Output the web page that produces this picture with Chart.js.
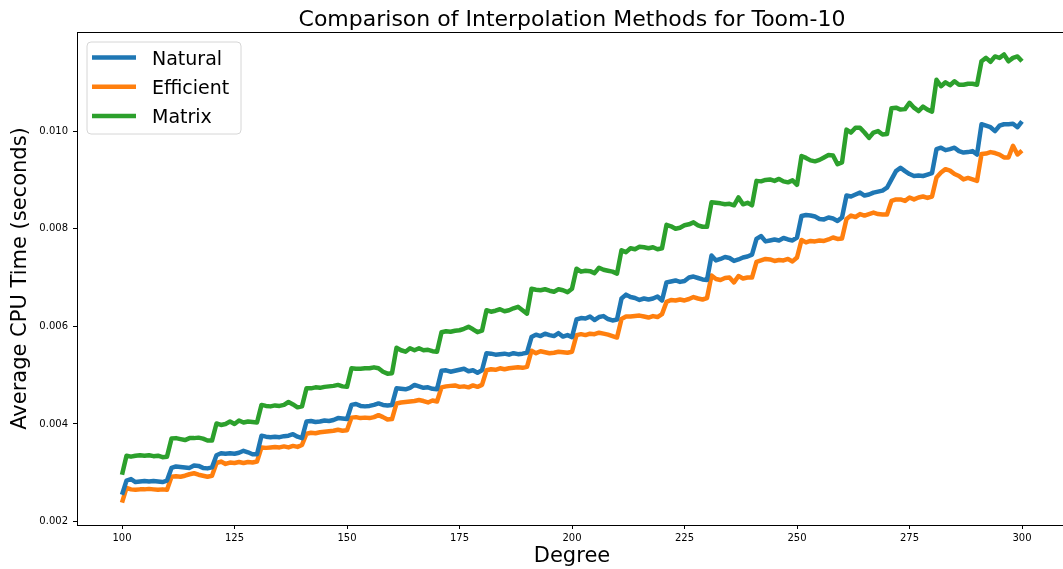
<!DOCTYPE html>
<html>
<head>
<meta charset="utf-8">
<script src="https://cdn.jsdelivr.net/npm/chart.js@4.4.0/dist/chart.umd.min.js"></script>
<style>
    html, body { margin: 0; padding: 0; background: #fff; }
    #wrap { width: 1063px; height: 569px; overflow: hidden; position: relative; }
    #wrap canvas { position: absolute; left: 0; top: 0; }
</style>
</head>
<body>
<div id="wrap"><canvas id="chart" width="1080" height="569"></canvas></div>
<script>
const chartTitle = 'Comparison of Interpolation Methods for Toom-10';
const xTitle = 'Degree';
const yTitle = 'Average CPU Time (seconds)';
const xTicks = [100, 125, 150, 175, 200, 225, 250, 275, 300];
const yTicks = [0.002, 0.004, 0.006, 0.008, 0.010];

// one point per degree, 100..300
const degrees = Array.from({ length: 201 }, (_, i) => 100 + i);

const natural = [
    0.00255,
    0.00284, 0.00287, 0.00281, 0.00282, 0.00283, 0.00282, 0.00283, 0.00282, 0.00281, 0.00284,
    0.00310, 0.00313, 0.00312, 0.00311, 0.00310, 0.00315, 0.00314, 0.00310, 0.00309, 0.00311,
    0.00336, 0.00340, 0.00339, 0.00340, 0.00339, 0.00341, 0.00345, 0.00342, 0.00338, 0.00338,
    0.00376, 0.00374, 0.00373, 0.00374, 0.00373, 0.00375, 0.00376, 0.00379, 0.00374, 0.00371,
    0.00405, 0.00406, 0.00404, 0.00405, 0.00407, 0.00406, 0.00408, 0.00412, 0.00411, 0.00410,
    0.00439, 0.00441, 0.00437, 0.00436, 0.00437, 0.00439, 0.00442, 0.00439, 0.00438, 0.00439,
    0.00473, 0.00472, 0.00471, 0.00474, 0.00480, 0.00477, 0.00474, 0.00475, 0.00472, 0.00471,
    0.00509, 0.00510, 0.00507, 0.00509, 0.00511, 0.00513, 0.00508, 0.00510, 0.00505, 0.00510,
    0.00545, 0.00544, 0.00542, 0.00543, 0.00544, 0.00542, 0.00545, 0.00543, 0.00544, 0.00546,
    0.00578, 0.00583, 0.00580, 0.00585, 0.00582, 0.00580, 0.00586, 0.00579, 0.00582, 0.00578,
    0.00614, 0.00617, 0.00616, 0.00620, 0.00613, 0.00619, 0.00621, 0.00615, 0.00612, 0.00614,
    0.00657, 0.00665, 0.00660, 0.00658, 0.00654, 0.00657, 0.00655, 0.00657, 0.00661, 0.00653,
    0.00690, 0.00692, 0.00694, 0.00691, 0.00693, 0.00700, 0.00702, 0.00699, 0.00696, 0.00695,
    0.00745, 0.00735, 0.00738, 0.00742, 0.00740, 0.00734, 0.00737, 0.00741, 0.00743, 0.00747,
    0.00779, 0.00785, 0.00774, 0.00776, 0.00778, 0.00776, 0.00781, 0.00778, 0.00776, 0.00782,
    0.00826, 0.00828, 0.00827, 0.00825, 0.00820, 0.00819, 0.00823, 0.00821, 0.00816, 0.00823,
    0.00868, 0.00866, 0.00870, 0.00874, 0.00868, 0.00870, 0.00874, 0.00876, 0.00878, 0.00884,
    0.00901, 0.00918, 0.00925, 0.00918, 0.00912, 0.00908, 0.00909, 0.00908, 0.00911, 0.00914,
    0.00963, 0.00966, 0.00961, 0.00963, 0.00966, 0.00959, 0.00956, 0.00957, 0.00959, 0.00952,
    0.01014, 0.01011, 0.01008, 0.01000, 0.01011, 0.01014, 0.01014, 0.01015, 0.01008, 0.01020
];

const efficient = [
    0.00239,
    0.00269, 0.00266, 0.00265, 0.00266, 0.00266, 0.00267, 0.00266, 0.00265, 0.00266, 0.00265,
    0.00292, 0.00293, 0.00292, 0.00294, 0.00297, 0.00299, 0.00296, 0.00294, 0.00292, 0.00294,
    0.00320, 0.00323, 0.00318, 0.00321, 0.00320, 0.00322, 0.00320, 0.00322, 0.00321, 0.00323,
    0.00352, 0.00351, 0.00352, 0.00353, 0.00352, 0.00354, 0.00352, 0.00355, 0.00353, 0.00357,
    0.00380, 0.00382, 0.00381, 0.00383, 0.00384, 0.00385, 0.00386, 0.00388, 0.00386, 0.00387,
    0.00413, 0.00414, 0.00412, 0.00413, 0.00412, 0.00414, 0.00418, 0.00414, 0.00409, 0.00410,
    0.00442, 0.00444, 0.00445, 0.00446, 0.00447, 0.00449, 0.00447, 0.00444, 0.00448, 0.00446,
    0.00475, 0.00477, 0.00478, 0.00479, 0.00476, 0.00477, 0.00475, 0.00479, 0.00476, 0.00480,
    0.00510, 0.00512, 0.00511, 0.00514, 0.00512, 0.00514, 0.00515, 0.00516, 0.00515, 0.00517,
    0.00550, 0.00545, 0.00549, 0.00547, 0.00545, 0.00546, 0.00548, 0.00547, 0.00546, 0.00548,
    0.00582, 0.00584, 0.00582, 0.00585, 0.00584, 0.00587, 0.00585, 0.00583, 0.00580, 0.00577,
    0.00615, 0.00620, 0.00620, 0.00621, 0.00622, 0.00620, 0.00618, 0.00621, 0.00619, 0.00625,
    0.00650, 0.00654, 0.00653, 0.00655, 0.00653, 0.00656, 0.00660, 0.00657, 0.00655, 0.00658,
    0.00704, 0.00697, 0.00695, 0.00699, 0.00700, 0.00690, 0.00703, 0.00698, 0.00700, 0.00700,
    0.00732, 0.00735, 0.00738, 0.00737, 0.00734, 0.00736, 0.00735, 0.00738, 0.00733, 0.00741,
    0.00777, 0.00772, 0.00775, 0.00774, 0.00776, 0.00775, 0.00778, 0.00782, 0.00779, 0.00780,
    0.00820, 0.00827, 0.00824, 0.00830, 0.00827, 0.00830, 0.00833, 0.00830, 0.00829, 0.00829,
    0.00857, 0.00860, 0.00860, 0.00857, 0.00864, 0.00860, 0.00864, 0.00866, 0.00863, 0.00866,
    0.00905, 0.00915, 0.00922, 0.00919, 0.00912, 0.00908, 0.00901, 0.00904, 0.00901, 0.00898,
    0.00953, 0.00954, 0.00957, 0.00955, 0.00952, 0.00946, 0.00946, 0.00970, 0.00952, 0.00960
];

const matrix = [
    0.00296,
    0.00335, 0.00333, 0.00335, 0.00336, 0.00335, 0.00336, 0.00334, 0.00335, 0.00332, 0.00333,
    0.00370, 0.00371, 0.00369, 0.00367, 0.00371, 0.00371, 0.00372, 0.00370, 0.00366, 0.00366,
    0.00401, 0.00398, 0.00400, 0.00405, 0.00400, 0.00407, 0.00403, 0.00405, 0.00404, 0.00403,
    0.00439, 0.00437, 0.00436, 0.00438, 0.00437, 0.00439, 0.00445, 0.00440, 0.00434, 0.00436,
    0.00473, 0.00473, 0.00475, 0.00474, 0.00476, 0.00477, 0.00478, 0.00480, 0.00477, 0.00476,
    0.00514, 0.00513, 0.00513, 0.00514, 0.00514, 0.00516, 0.00514, 0.00507, 0.00503, 0.00504,
    0.00556, 0.00551, 0.00548, 0.00555, 0.00551, 0.00555, 0.00551, 0.00552, 0.00549, 0.00548,
    0.00588, 0.00590, 0.00589, 0.00591, 0.00592, 0.00595, 0.00599, 0.00594, 0.00588, 0.00591,
    0.00633, 0.00630, 0.00632, 0.00635, 0.00631, 0.00633, 0.00637, 0.00640, 0.00633, 0.00626,
    0.00677, 0.00675, 0.00674, 0.00676, 0.00673, 0.00671, 0.00676, 0.00674, 0.00670, 0.00677,
    0.00718, 0.00712, 0.00714, 0.00713, 0.00709, 0.00720, 0.00716, 0.00714, 0.00712, 0.00708,
    0.00756, 0.00752, 0.00760, 0.00758, 0.00763, 0.00762, 0.00760, 0.00762, 0.00758, 0.00760,
    0.00808, 0.00805, 0.00800, 0.00802, 0.00807, 0.00809, 0.00813, 0.00807, 0.00804, 0.00804,
    0.00854, 0.00853, 0.00852, 0.00850, 0.00851, 0.00848, 0.00864, 0.00850, 0.00853, 0.00848,
    0.00898, 0.00897, 0.00900, 0.00901, 0.00898, 0.00902, 0.00897, 0.00895, 0.00899, 0.00890,
    0.00949, 0.00945, 0.00940, 0.00938, 0.00941, 0.00946, 0.00951, 0.00950, 0.00932, 0.00936,
    0.01003, 0.00997, 0.01007, 0.01007, 0.00997, 0.00986, 0.00997, 0.01000, 0.00993, 0.00994,
    0.01047, 0.01048, 0.01044, 0.01045, 0.01058, 0.01048, 0.01041, 0.01050, 0.01044, 0.01040,
    0.01105, 0.01092, 0.01100, 0.01094, 0.01102, 0.01095, 0.01095, 0.01097, 0.01097, 0.01095,
    0.01143, 0.01150, 0.01142, 0.01153, 0.01150, 0.01157, 0.01143, 0.01150, 0.01153, 0.01143
];

const seriesNames = ['Natural', 'Efficient', 'Matrix'];
const seriesColors = ['#1f77b4', '#ff7f0e', '#2ca02c'];

const FONT = '"DejaVu Sans", "Liberation Sans", sans-serif';

// pair degrees with values for a linear x axis
function toPoints(values) {
    return values.map((v, i) => ({ x: degrees[i], y: v }));
}

// frame, title and legend drawn the matplotlib way
const decorations = {
    id: 'decorations',
    afterDraw(chart) {
        const { ctx, chartArea: a } = chart;
        ctx.save();

        // spines
        ctx.strokeStyle = '#000';
        ctx.lineWidth = 1;
        ctx.strokeRect(Math.round(a.left) + 0.5, Math.round(a.top) + 0.5,
            Math.round(a.right - a.left), Math.round(a.bottom - a.top));

        // title
        ctx.fillStyle = '#000';
        ctx.font = '22px ' + FONT;
        ctx.textAlign = 'center';
        ctx.textBaseline = 'alphabetic';
        ctx.fillText(chartTitle, (a.left + a.right) / 2, 26);

        // legend box
        const bx = 87, by = 42, bw = 154, bh = 92, r = 4;
        ctx.beginPath();
        ctx.moveTo(bx + r, by);
        ctx.arcTo(bx + bw, by, bx + bw, by + bh, r);
        ctx.arcTo(bx + bw, by + bh, bx, by + bh, r);
        ctx.arcTo(bx, by + bh, bx, by, r);
        ctx.arcTo(bx, by, bx + bw, by, r);
        ctx.closePath();
        ctx.fillStyle = 'rgba(255,255,255,0.8)';
        ctx.fill();
        ctx.strokeStyle = '#d6d6d6';
        ctx.lineWidth = 1;
        ctx.stroke();

        ctx.font = '19px ' + FONT;
        ctx.textAlign = 'left';
        chart.data.datasets.forEach((ds, i) => {
            const ly = 57.5 + i * 29.3;
            ctx.strokeStyle = ds.borderColor;
            ctx.lineWidth = 4.5;
            ctx.lineCap = 'butt';
            ctx.beginPath();
            ctx.moveTo(92, ly);
            ctx.lineTo(136, ly);
            ctx.stroke();
            ctx.fillStyle = '#000';
            ctx.fillText(ds.label, 152, ly + 7);
        });
        ctx.restore();
    }
};

new Chart(document.getElementById('chart'), {
    type: 'line',
    data: {
        datasets: [natural, efficient, matrix].map((values, i) => ({
            label: seriesNames[i],
            data: toPoints(values),
            borderColor: seriesColors[i],
            backgroundColor: seriesColors[i],
            borderWidth: 4.5,
            borderJoinStyle: 'round',
            pointRadius: 0,
            tension: 0,
            fill: false
        }))
    },
    options: {
        responsive: false,
        animation: false,
        events: [],
        layout: {
            padding: { top: 32, right: 13, bottom: 0, left: 0 }
        },
        plugins: {
            legend: { display: false },
            title: { display: false },
            tooltip: { enabled: false }
        },
        scales: {
            x: {
                type: 'linear',
                min: 90,
                max: 310,
                afterBuildTicks: (scale) => {
                    scale.ticks = xTicks.map(v => ({ value: v }));
                },
                afterFit: (scale) => {
                    scale.height = 44;
                },
                ticks: {
                    color: '#000',
                    font: { family: FONT, size: 10 },
                    padding: 3,
                    maxRotation: 0,
                    autoSkip: false,
                    callback: (v) => String(v)
                },
                grid: {
                    drawOnChartArea: false,
                    drawTicks: true,
                    tickLength: 4,
                    color: '#000'
                },
                border: { display: true, color: '#000', width: 1 },
                title: {
                    display: true,
                    text: xTitle,
                    color: '#000',
                    font: { family: FONT, size: 21 },
                    padding: { top: 0, bottom: 0 }
                }
            },
            y: {
                type: 'linear',
                min: 0.00193,
                max: 0.01203,
                afterBuildTicks: (scale) => {
                    scale.ticks = yTicks.map(v => ({ value: v }));
                },
                afterFit: (scale) => {
                    scale.width = 77;
                },
                ticks: {
                    color: '#000',
                    font: { family: FONT, size: 10 },
                    padding: 5,
                    autoSkip: false,
                    callback: (v) => Number(v).toFixed(3)
                },
                grid: {
                    drawOnChartArea: false,
                    drawTicks: true,
                    tickLength: 4,
                    color: '#000'
                },
                border: { display: true, color: '#000', width: 1 },
                title: {
                    display: true,
                    text: yTitle,
                    color: '#000',
                    font: { family: FONT, size: 21 },
                    padding: { top: 8, bottom: 0 }
                }
            }
        }
    },
    plugins: [decorations]
});
</script>
</body>
</html>
